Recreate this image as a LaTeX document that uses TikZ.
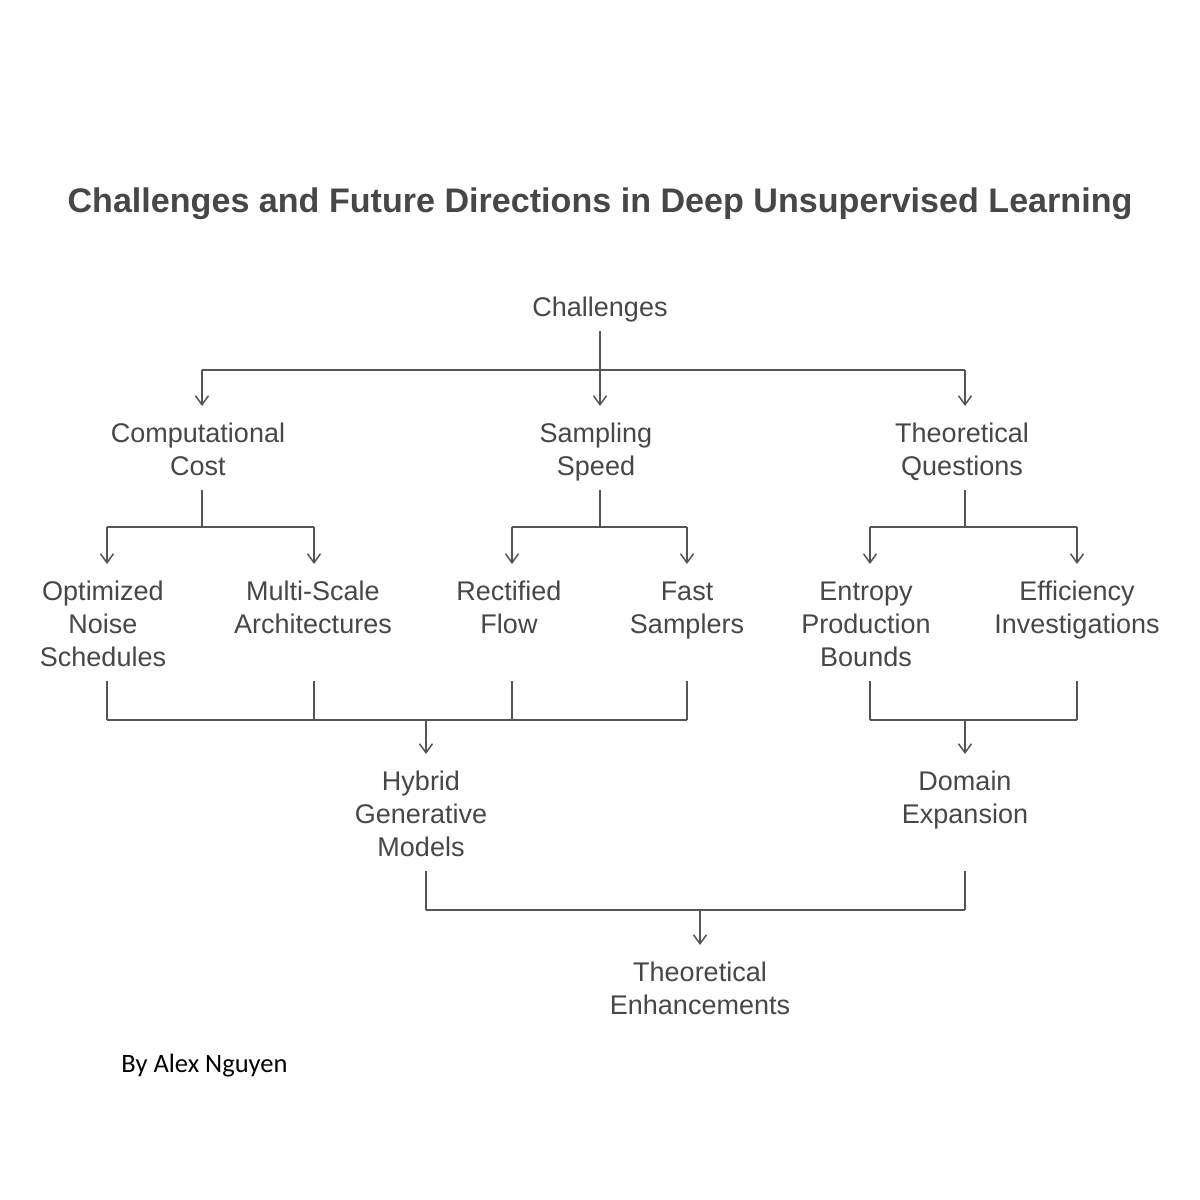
\documentclass[tikz,border=0pt]{standalone}
\usepackage{fontspec}
\setmainfont{Liberation Sans}
\newfontfamily\byfont{Carlito}
\usetikzlibrary{arrows.meta}
\definecolor{txt}{HTML}{474747}
\definecolor{ln}{HTML}{555555}
\newcommand{\topstrut}{\rule{0pt}{16pt}}
\begin{document}
\begin{tikzpicture}[x=0.5pt,y=-0.5pt,
  lbl/.style={anchor=north,align=center,inner sep=2pt,text=txt,
    font=\fontsize{13.5pt}{16.5pt}\selectfont},
  conn/.style={draw=ln,line width=0.75pt},
  arr/.style={conn,-{Straight Barb[length=4.5pt,width=6.5pt]}}]
\useasboundingbox[fill=white] (0,0) rectangle (1200,1200);
\node[anchor=base,text=txt,font=\fontsize{17.05pt}{20pt}\selectfont\bfseries] (title) at (600,212)
  {Challenges and Future Directions in Deep Unsupervised Learning};
% nodes
\node[lbl] (ch) at (600,280) {\topstrut Challenges\strut};
\node[lbl] (cc) at (198,406) {\topstrut Computational\\Cost\strut};
\node[lbl] (ss) at (596,406) {\topstrut Sampling\\Speed\strut};
\node[lbl] (tq) at (962,406) {\topstrut Theoretical\\Questions\strut};
\node[lbl] (ons) at (103,564) {\topstrut Optimized\\Noise\\Schedules\strut};
\node[lbl] (msa) at (313,564) {\topstrut Multi-Scale\\Architectures\strut};
\node[lbl] (rf) at (509,564) {\topstrut Rectified\\Flow\strut};
\node[lbl] (fs) at (687,564) {\topstrut Fast\\Samplers\strut};
\node[lbl] (epb) at (866,564) {\topstrut Entropy\\Production\\Bounds\strut};
\node[lbl] (ei) at (1077,564) {\topstrut Efficiency\\Investigations\strut};
\node[lbl] (hgm) at (421,754) {\topstrut Hybrid\\Generative\\Models\strut};
\node[lbl] (de) at (965,754) {\topstrut Domain\\Expansion\strut};
\node[lbl] (te) at (700,945) {\topstrut Theoretical\\Enhancements\strut};
\node[anchor=base west,inner sep=0pt,font=\byfont\fontsize{13.25pt}{15pt}\selectfont] (by) at (121,1072) {By Alex Nguyen};
% level 1
\coordinate (a1) at (202,370);
\coordinate (a2) at (600,370);
\coordinate (a3) at (965,370);
\draw[conn] (ch.south) -- (a2);
\draw[conn] (a1) -- (a3);
\draw[arr] (a1) -- (a1 |- cc.north);
\draw[arr] (a2) -- (a2 |- ss.north);
\draw[arr] (a3) -- (a3 |- tq.north);
% level 2
\coordinate (b1) at (202,527);
\coordinate (b2) at (600,527);
\coordinate (b3) at (965,527);
\coordinate (b11) at (107,527);
\coordinate (b12) at (314,527);
\coordinate (b21) at (512,527);
\coordinate (b22) at (687,527);
\coordinate (b31) at (870,527);
\coordinate (b32) at (1077,527);
\draw[conn] (b1 |- cc.south) -- (b1);
\draw[conn] (b2 |- ss.south) -- (b2);
\draw[conn] (b3 |- tq.south) -- (b3);
\draw[conn] (b11) -- (b12);
\draw[conn] (b21) -- (b22);
\draw[conn] (b31) -- (b32);
\draw[arr] (b11) -- (b11 |- ons.north);
\draw[arr] (b12) -- (b12 |- msa.north);
\draw[arr] (b21) -- (b21 |- rf.north);
\draw[arr] (b22) -- (b22 |- fs.north);
\draw[arr] (b31) -- (b31 |- epb.north);
\draw[arr] (b32) -- (b32 |- ei.north);
% level 3
\coordinate (c11) at (107,720);
\coordinate (c12) at (314,720);
\coordinate (c13) at (512,720);
\coordinate (c14) at (687,720);
\coordinate (c1m) at (426,720);
\coordinate (c21) at (870,720);
\coordinate (c22) at (1077,720);
\coordinate (c2m) at (965,720);
\draw[conn] (c11 |- ons.south) -- (c11);
\draw[conn] (c12 |- ons.south) -- (c12);
\draw[conn] (c13 |- ons.south) -- (c13);
\draw[conn] (c14 |- ons.south) -- (c14);
\draw[conn] (c11) -- (c14);
\draw[arr] (c1m) -- (c1m |- hgm.north);
\draw[conn] (c21 |- epb.south) -- (c21);
\draw[conn] (c22 |- epb.south) -- (c22);
\draw[conn] (c21) -- (c22);
\draw[arr] (c2m) -- (c2m |- de.north);
% level 4
\coordinate (d1) at (426,910);
\coordinate (d2) at (965,910);
\coordinate (dm) at (700,910);
\draw[conn] (d1 |- hgm.south) -- (d1);
\draw[conn] (d2 |- hgm.south) -- (d2);
\draw[conn] (d1) -- (d2);
\draw[arr] (dm) -- (dm |- te.north);
\end{tikzpicture}
\end{document}
